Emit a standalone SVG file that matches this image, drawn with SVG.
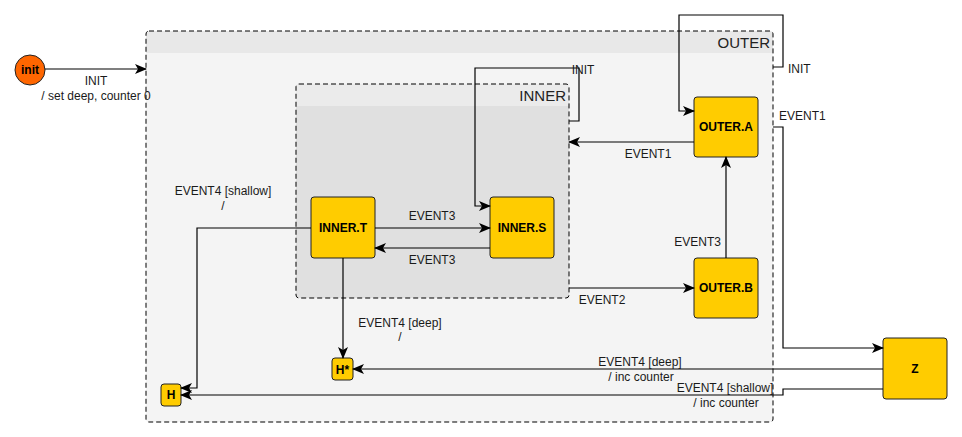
<svg xmlns="http://www.w3.org/2000/svg" width="962" height="437" viewBox="0 0 962 437">
<defs>
<style>
.lbl{font-family:"Liberation Sans",Arial,sans-serif;font-size:12px;fill:#1a1a1a}
.nt{font-family:"Liberation Sans",Arial,sans-serif;font-size:12px;font-weight:bold;fill:#000;text-anchor:middle}
.ttl{font-family:"Liberation Sans",Arial,sans-serif;font-size:15px;fill:#222;text-anchor:end}
.st{fill:#ffcc00;stroke:#222;stroke-width:1}
.cn{fill:none;stroke:#000;stroke-width:1.2}
.dash{stroke:#000;stroke-width:1;stroke-dasharray:5 3;fill:none}
</style>
<marker id="ah" viewBox="0 0 12 10" refX="11" refY="5" markerWidth="12" markerHeight="10" markerUnits="userSpaceOnUse" orient="auto">
<path d="M0,0 L12,5 L0,10 L3,5 Z" fill="#000"/>
</marker>
</defs>
<rect width="962" height="437" fill="#fff"/>

<g id="OUTER">
<path d="M149,31 H770 Q773,31 773,34 V53 H146 V34 Q146,31 149,31 Z" fill="#e8e8e8"/>
<path d="M146,53 H773 V419 Q773,422 770,422 H149 Q146,422 146,419 Z" fill="#f4f4f4"/>
<rect x="146" y="31" width="627" height="391" rx="3" class="dash"/>
<text class="ttl" x="770" y="48">OUTER</text>
</g>

<g id="INNER">
<path d="M299,84 H566 Q569,84 569,87 V106 H296 V87 Q296,84 299,84 Z" fill="#ebebeb"/>
<path d="M296,106 H569 V295 Q569,298 566,298 H299 Q296,298 296,295 Z" fill="#e0e0e0"/>
<rect x="296" y="84" width="273" height="214" rx="3" class="dash"/>
<text class="ttl" x="566" y="101">INNER</text>
</g>

<g id="init">
<circle cx="30" cy="70" r="15" fill="#ff6600" stroke="#222"/>
<text class="nt" x="30" y="74">init</text>
</g>
<g id="OUTER.A"><rect class="st" x="694" y="97" width="64" height="60" rx="3"/><text class="nt" x="726" y="131">OUTER.A</text></g>
<g id="OUTER.B"><rect class="st" x="694" y="258" width="64" height="60" rx="3"/><text class="nt" x="726" y="292">OUTER.B</text></g>
<g id="INNER.T"><rect class="st" x="311" y="197" width="64" height="61" rx="3"/><text class="nt" x="343" y="232">INNER.T</text></g>
<g id="INNER.S"><rect class="st" x="490" y="197" width="64" height="61" rx="3"/><text class="nt" x="522" y="232">INNER.S</text></g>
<g id="Z"><rect class="st" x="883" y="338" width="64" height="61" rx="3"/><text class="nt" x="915" y="373">Z</text></g>
<g id="Hdeep"><rect class="st" x="332" y="358" width="21" height="22" rx="3"/><text class="nt" x="342.5" y="374">H*</text></g>
<g id="H"><rect class="st" x="161" y="384" width="20" height="22" rx="3"/><text class="nt" x="171" y="399">H</text></g>

<g id="connectors">
<path class="cn" d="M45,69 H146" marker-end="url(#ah)"/>
<path class="cn" d="M773,67 H783 V15 H679 V111 H694" marker-end="url(#ah)"/>
<path class="cn" d="M569,121 H579 V68 H475 V206 H490" marker-end="url(#ah)"/>
<path class="cn" d="M694,142 H569" marker-end="url(#ah)"/>
<path class="cn" d="M773,127 H783 V348 H883" marker-end="url(#ah)"/>
<path class="cn" d="M375,228 H490" marker-end="url(#ah)"/>
<path class="cn" d="M490,248 H375" marker-end="url(#ah)"/>
<path class="cn" d="M311,228 H197 V388 H181" marker-end="url(#ah)"/>
<path class="cn" d="M343,258 V358" marker-end="url(#ah)"/>
<path class="cn" d="M569,288 H694" marker-end="url(#ah)"/>
<path class="cn" d="M726,258 V157" marker-end="url(#ah)"/>
<path class="cn" d="M883,369 H353" marker-end="url(#ah)"/>
<path class="cn" d="M883,389 H783 V395 H181" marker-end="url(#ah)"/>
</g>

<g id="labels">
<text class="lbl" x="96" y="85" text-anchor="middle">INIT</text>
<text class="lbl" x="96" y="100" text-anchor="middle">/ set deep, counter 0</text>
<text class="lbl" x="788" y="73">INIT</text>
<text class="lbl" x="583" y="74" text-anchor="middle">INIT</text>
<text class="lbl" x="648" y="158" text-anchor="middle">EVENT1</text>
<text class="lbl" x="779" y="120">EVENT1</text>
<text class="lbl" x="432" y="220" text-anchor="middle">EVENT3</text>
<text class="lbl" x="432" y="264" text-anchor="middle">EVENT3</text>
<text class="lbl" x="223" y="195" text-anchor="middle">EVENT4 [shallow]</text>
<text class="lbl" x="223" y="210" text-anchor="middle">/</text>
<text class="lbl" x="400" y="327" text-anchor="middle">EVENT4 [deep]</text>
<text class="lbl" x="400" y="341" text-anchor="middle">/</text>
<text class="lbl" x="602" y="304" text-anchor="middle">EVENT2</text>
<text class="lbl" x="721" y="246" text-anchor="end">EVENT3</text>
<text class="lbl" x="640" y="366" text-anchor="middle">EVENT4 [deep]</text>
<text class="lbl" x="641" y="381" text-anchor="middle">/ inc counter</text>
<text class="lbl" x="725" y="392" text-anchor="middle">EVENT4 [shallow]</text>
<text class="lbl" x="726" y="407" text-anchor="middle">/ inc counter</text>
</g>
</svg>
